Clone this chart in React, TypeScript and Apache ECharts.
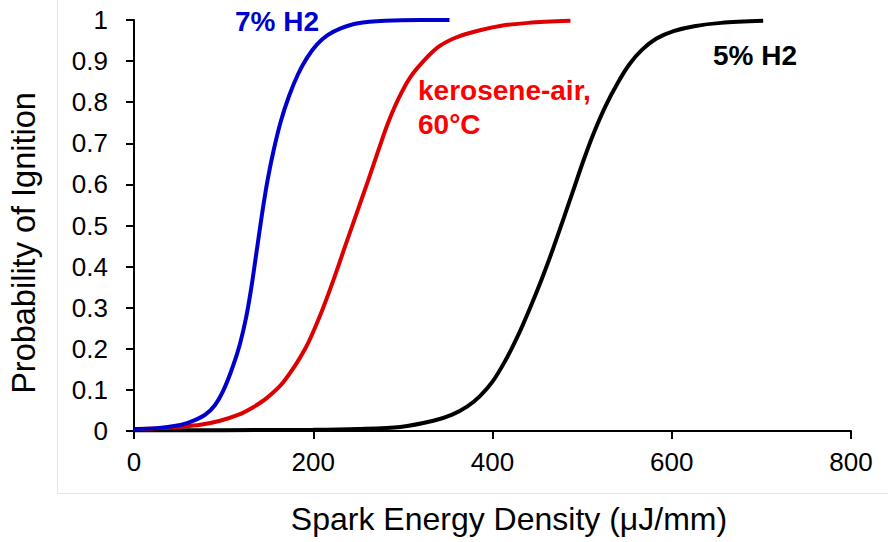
import React, { useEffect, useRef } from "react";
import * as echarts from "echarts";

const xTicks = [0, 200, 400, 600, 800];
const yTicks = [0, 0.1, 0.2, 0.3, 0.4, 0.5, 0.6, 0.7, 0.8, 0.9, 1];

const h2Seven: [number, number][] = [
  [0, 0.005], [25, 0.007], [45, 0.012], [60, 0.02], [79, 0.039], [90, 0.062],
  [100, 0.1], [110, 0.155], [118, 0.21], [125, 0.275], [131, 0.35], [137, 0.44],
  [143, 0.53], [149, 0.61], [156, 0.685], [164, 0.755], [173, 0.815], [183, 0.868],
  [193, 0.908], [204, 0.94], [216, 0.963], [230, 0.979], [250, 0.992], [280, 0.998],
  [320, 1], [352, 1],
];

const kerosene: [number, number][] = [
  [0, 0.005], [30, 0.007], [50, 0.01], [74, 0.015], [96, 0.025], [116, 0.039],
  [133, 0.058], [148, 0.08], [167, 0.12], [191, 0.2], [208, 0.283], [222, 0.364],
  [235, 0.446], [248, 0.527], [261, 0.608], [273, 0.685], [283, 0.747], [295, 0.808],
  [308, 0.86], [323, 0.9], [340, 0.935], [360, 0.958], [386, 0.975], [410, 0.986],
  [440, 0.993], [487, 0.998],
];

const h2Five: [number, number][] = [
  [0, 0.002], [100, 0.002], [200, 0.003], [250, 0.005], [297, 0.01], [334, 0.025],
  [355, 0.04], [372, 0.06], [386, 0.085], [400, 0.12], [414, 0.17], [428, 0.23],
  [442, 0.3], [455, 0.37], [467, 0.44], [479, 0.515], [490, 0.585], [501, 0.655],
  [513, 0.725], [526, 0.79], [540, 0.848], [553, 0.893], [567, 0.928], [583, 0.955],
  [602, 0.973], [625, 0.985], [655, 0.993], [702, 0.998],
];

const FONT = "'Liberation Sans', Arial, sans-serif";

export default function App() {
  const ref = useRef<HTMLDivElement>(null);
  useEffect(() => {
    if (!ref.current) return;
    const chart = echarts.init(ref.current, undefined, { renderer: "svg" });
    const line = (name: string, data: [number, number][], color: string) => ({
      name,
      type: "line",
      data,
      smooth: 0.3,
      showSymbol: false,
      symbol: "none",
      lineStyle: { color, width: 4 },
      itemStyle: { color },
    });
    chart.setOption({
      animation: false,
      backgroundColor: "#ffffff",
      textStyle: { fontFamily: FONT },
      grid: { left: 134, right: 37, top: 20, bottom: 111 },
      xAxis: {
        type: "value",
        min: xTicks[0],
        max: xTicks[xTicks.length - 1],
        interval: 200,
        axisLine: { show: true, lineStyle: { color: "#000", width: 2 } },
        axisTick: { show: true, inside: false, length: 8, lineStyle: { color: "#000", width: 2 } },
        splitLine: { show: false },
        axisLabel: { color: "#000", fontSize: 26, margin: 18, fontFamily: FONT },
      },
      yAxis: {
        type: "value",
        min: yTicks[0],
        max: yTicks[yTicks.length - 1],
        interval: 0.1,
        axisLine: { show: true, lineStyle: { color: "#000", width: 2 } },
        axisTick: { show: true, inside: false, length: 8, lineStyle: { color: "#000", width: 2 } },
        splitLine: { show: false },
        axisLabel: {
          color: "#000",
          fontSize: 26,
          margin: 26,
          fontFamily: FONT,
          formatter: (v: number) => String(Math.round(v * 10) / 10),
        },
      },
      graphic: [
        { type: "line", silent: true, shape: { x1: 57.5, y1: 0, x2: 57.5, y2: 493.5 }, style: { stroke: "#e4e4e4", lineWidth: 1 } },
        { type: "line", silent: true, shape: { x1: 57.5, y1: 493.5, x2: 888, y2: 493.5 }, style: { stroke: "#e4e4e4", lineWidth: 1 } },
        {
          type: "text", x: 509, y: 519,
          style: { text: "Spark Energy Density (μJ/mm)", font: `32px ${FONT}`, fill: "#000", align: "center", verticalAlign: "middle" },
        },
        {
          type: "text", x: 24, y: 243, rotation: Math.PI / 2,
          style: { text: "Probability of Ignition", font: `32.5px ${FONT}`, fill: "#000", align: "center", verticalAlign: "middle" },
        },
        {
          type: "text", x: 235, y: 21,
          style: { text: "7% H2", font: `bold 28px ${FONT}`, fill: "#0000cc", align: "left", verticalAlign: "middle" },
        },
        {
          type: "text", x: 418, y: 90,
          style: { text: "kerosene-air,", font: `bold 28px ${FONT}`, fill: "#ff0000", align: "left", verticalAlign: "middle" },
        },
        {
          type: "text", x: 418, y: 124,
          style: { text: "60°C", font: `bold 28px ${FONT}`, fill: "#ff0000", align: "left", verticalAlign: "middle" },
        },
        {
          type: "text", x: 713, y: 55,
          style: { text: "5% H2", font: `bold 28px ${FONT}`, fill: "#000", align: "left", verticalAlign: "middle" },
        },
      ],
      series: [
        line("5% H2", h2Five, "#000000"),
        line("kerosene-air, 60°C", kerosene, "#dd0000"),
        line("7% H2", h2Seven, "#0000cc"),
      ],
    });
    return () => chart.dispose();
  }, []);
  return <div ref={ref} style={{ position: "fixed", left: 0, top: 0, width: 888, height: 542 }} />;
}
